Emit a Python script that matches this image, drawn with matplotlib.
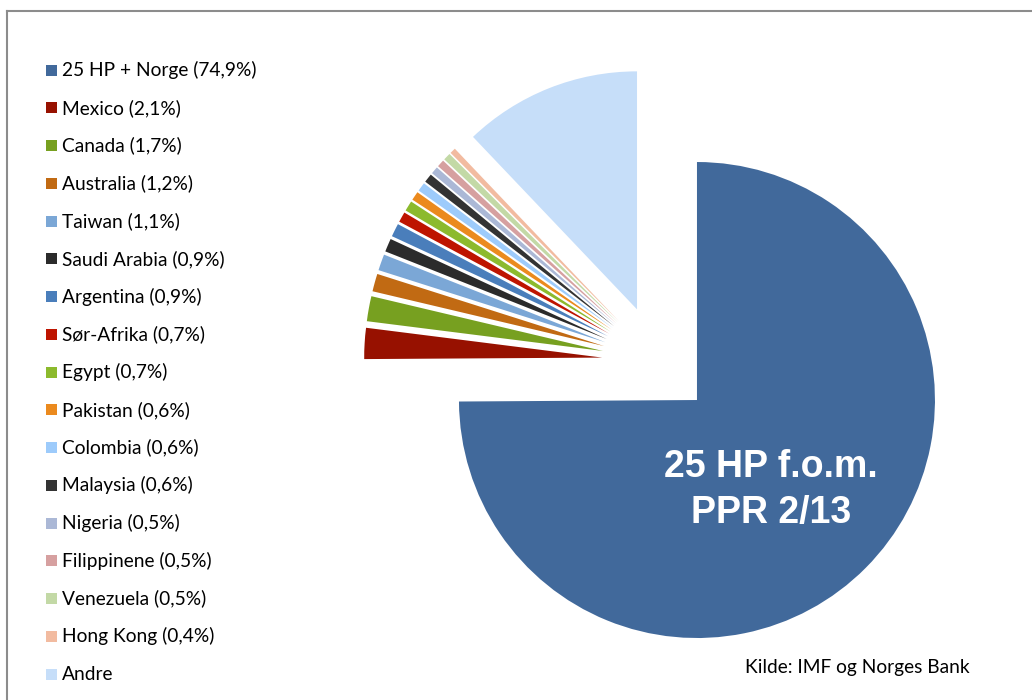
import matplotlib
matplotlib.use("Agg")
import matplotlib.pyplot as plt
from matplotlib.patches import Rectangle
from matplotlib.lines import Line2D

labels = ["25 HP + Norge (74,9%)", "Mexico (2,1%)", "Canada (1,7%)", "Australia (1,2%)",
          "Taiwan (1,1%)", "Saudi Arabia (0,9%)", "Argentina (0,9%)", "Sør-Afrika (0,7%)",
          "Egypt (0,7%)", "Pakistan (0,6%)", "Colombia (0,6%)", "Malaysia (0,6%)",
          "Nigeria (0,5%)", "Filippinene (0,5%)", "Venezuela (0,5%)", "Hong Kong (0,4%)", "Andre"]
values = [74.9, 2.1, 1.7, 1.2, 1.1, 0.9, 0.9, 0.7, 0.7, 0.6, 0.6, 0.6, 0.5, 0.5, 0.5, 0.4, 12.1]
colors = ["#41699B", "#971100", "#77A020", "#C16A13", "#7BA7D6", "#2B2B2B", "#4A7EBB",
          "#BE1400", "#8CBA2D", "#EB8A1E", "#9DCBFB", "#333333", "#ABB8D6", "#D6A0A0",
          "#C3D9A6", "#F2BBA0", "#C6DEF9"]

W, H = 1032, 700
R = 238.0  # pie radius in pixels
fig = plt.figure(figsize=(W / 100, H / 100), dpi=100)
ax = fig.add_axes([0, 0, 1, 1])

cx, cy = 657.6, 360.9
ax.pie(values, colors=colors, startangle=90, counterclock=False,
       center=(cx / R, (H - cy) / R), radius=1.0,
       explode=[55.5 / R] * len(values),
       wedgeprops=dict(edgecolor="none", linewidth=0), frame=True)
ax.set_xlim(0, W / R)
ax.set_ylim(0, H / R)
ax.set_aspect("auto")
ax.axis("off")

# label inside big slice
ax.text(771 / R, (H - 477) / R, "25 HP f.o.m.", color="white", fontsize=27, fontweight="bold",
        family="Liberation Sans", ha="center", va="baseline")
ax.text(771 / R, (H - 523) / R, "PPR 2/13", color="white", fontsize=27, fontweight="bold",
        family="Liberation Sans", ha="center", va="baseline")

# legend
font = "Lato"
for i, (lab, col) in enumerate(zip(labels, colors)):
    yc = 70 + 37.75 * i
    fig.add_artist(Rectangle((46 / W, 1 - (yc + 5.5) / H), 11 / W, 11 / H,
                             transform=fig.transFigure, facecolor=col, edgecolor="none"))
    fig.text(62 / W, 1 - yc / H, lab, fontsize=13.8, family=font, ha="left", va="center",
             color="black")

fig.text(745 / W, 1 - 668 / H, "Kilde: IMF og Norges Bank", fontsize=13.8, family=font,
         ha="left", va="center", color="black")

# frame lines
fig.add_artist(Line2D([7 / W, 1], [1 - 11 / H, 1 - 11 / H], transform=fig.transFigure,
                      color="#8c8c8c", linewidth=1.5))
fig.add_artist(Line2D([7 / W, 7 / W], [0, 1 - 11 / H], transform=fig.transFigure,
                      color="#8c8c8c", linewidth=1.5))

fig.savefig("out.png", dpi=100)
